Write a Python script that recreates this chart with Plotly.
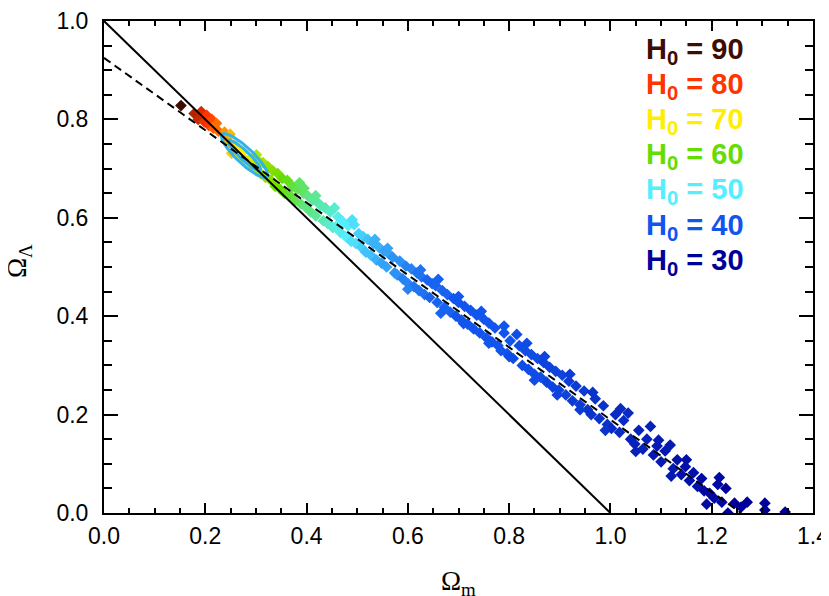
import numpy as np
import plotly.graph_objects as go

# points: Omega_m, Omega_Lambda, H0 (colour)
omega_m = [0.152, 0.178, 0.186, 0.192, 0.198, 0.203, 0.207, 0.213, 0.216, 0.222,
           0.226, 0.238, 0.243, 0.249, 0.247, 0.252, 0.256, 0.262, 0.266, 0.270,
           0.274, 0.279, 0.284, 0.289, 0.294, 0.299, 0.301, 0.305, 0.309, 0.314,
           0.319, 0.324, 0.330, 0.333, 0.338, 0.343, 0.348, 0.352, 0.356, 0.362,
           0.367, 0.372, 0.377, 0.381, 0.386, 0.389, 0.394, 0.398, 0.403, 0.408,
           0.412, 0.418, 0.423, 0.428, 0.433, 0.437, 0.442, 0.447, 0.452, 0.458,
           0.462, 0.467, 0.472, 0.477, 0.482, 0.488, 0.494, 0.497, 0.503, 0.508,
           0.512, 0.517, 0.521, 0.527, 0.532, 0.538, 0.543, 0.548, 0.553, 0.558,
           0.563, 0.570, 0.574, 0.579, 0.584, 0.590, 0.596, 0.601, 0.607, 0.612,
           0.618, 0.622, 0.627, 0.633, 0.638, 0.643, 0.648, 0.655, 0.658, 0.665,
           0.668, 0.672, 0.678, 0.684, 0.690, 0.695, 0.700, 0.706, 0.712, 0.718,
           0.724, 0.730, 0.736, 0.742, 0.750, 0.755, 0.760, 0.766, 0.772, 0.778,
           0.784, 0.790, 0.796, 0.802, 0.808, 0.815, 0.820, 0.826, 0.832, 0.838,
           0.844, 0.850, 0.856, 0.862, 0.868, 0.874, 0.880, 0.886, 0.892, 0.898,
           0.905, 0.912, 0.918, 0.925, 0.932, 0.940, 0.948, 0.955, 0.962, 0.970,
           0.978, 0.986, 0.994, 1.002, 1.010, 1.018, 1.026, 1.035, 1.040, 1.048,
           1.056, 1.064, 1.072, 1.079, 1.085, 1.092, 1.100, 1.108, 1.118, 1.124,
           1.132, 1.140, 1.148, 1.156, 1.164, 1.172, 1.180, 1.190, 1.196, 1.205,
           1.212, 1.220, 1.228, 1.232, 1.245, 1.258, 1.270, 1.305, 1.305, 1.345,
           0.395, 0.418, 0.455, 0.490, 0.535, 0.560, 0.600, 0.625, 0.660, 0.700,
           0.710, 0.745, 0.760, 0.790, 0.800, 0.835, 0.850, 0.870, 0.895, 0.920,
           0.940, 0.965, 0.990, 1.020, 1.050, 1.095, 1.120, 1.150, 1.185, 1.215]
omega_l = [0.828, 0.812, 0.800, 0.816, 0.795, 0.808, 0.788, 0.800, 0.782, 0.792,
           0.776, 0.774, 0.762, 0.770, 0.752, 0.731, 0.748, 0.744, 0.736, 0.724,
           0.734, 0.718, 0.716, 0.706, 0.708, 0.698, 0.728, 0.716, 0.690, 0.712,
           0.682, 0.704, 0.676, 0.696, 0.664, 0.690, 0.658, 0.680, 0.650, 0.676,
           0.646, 0.664, 0.634, 0.658, 0.671, 0.628, 0.650, 0.622, 0.644, 0.612,
           0.636, 0.604, 0.630, 0.625, 0.594, 0.620, 0.588, 0.612, 0.580, 0.582,
           0.602, 0.570, 0.592, 0.562, 0.584, 0.552, 0.586, 0.548, 0.568, 0.540,
           0.562, 0.530, 0.556, 0.524, 0.548, 0.514, 0.540, 0.508, 0.532, 0.500,
           0.526, 0.520, 0.488, 0.484, 0.512, 0.476, 0.502, 0.466, 0.496, 0.460,
           0.488, 0.452, 0.480, 0.444, 0.474, 0.438, 0.466, 0.462, 0.428, 0.406,
           0.452, 0.418, 0.444, 0.408, 0.436, 0.400, 0.428, 0.392, 0.420, 0.384,
           0.412, 0.374, 0.402, 0.366, 0.394, 0.356, 0.386, 0.348, 0.376, 0.340,
           0.330, 0.366, 0.324, 0.350, 0.314, 0.363, 0.340, 0.300, 0.330, 0.292,
           0.322, 0.282, 0.314, 0.276, 0.306, 0.266, 0.296, 0.256, 0.288, 0.250,
           0.280, 0.240, 0.268, 0.228, 0.258, 0.220, 0.248, 0.210, 0.200, 0.232,
           0.192, 0.218, 0.180, 0.172, 0.200, 0.164, 0.188, 0.203, 0.150, 0.140,
           0.168, 0.130, 0.150, 0.176, 0.118, 0.136, 0.104, 0.126, 0.138, 0.090,
           0.108, 0.078, 0.094, 0.066, 0.082, 0.054, 0.070, 0.018, 0.040, 0.030,
           0.058, 0.022, 0.050, 0.000, 0.020, 0.012, 0.022, 0.020, 0.006, 0.002,
           0.660, 0.645, 0.620, 0.596, 0.556, 0.538, 0.455, 0.494, 0.475, 0.440,
           0.385, 0.410, 0.345, 0.380, 0.318, 0.345, 0.270, 0.318, 0.240, 0.282,
           0.210, 0.245, 0.168, 0.212, 0.125, 0.148, 0.075, 0.108, 0.045, 0.072]
h0 = [90, 84, 83, 82, 81, 80, 80, 79, 78, 77,
      77, 75, 74, 73, 73, 72, 72, 71, 70, 70,
      70, 69, 68, 68, 67, 66, 65, 65, 64, 64,
      63, 63, 62, 62, 61, 61, 60, 60, 59, 59,
      58, 58, 57, 57, 56, 56, 56, 55, 55, 55,
      54, 54, 54, 53, 53, 53, 52, 52, 52, 51,
      51, 51, 50, 50, 50, 49, 49, 49, 48, 48,
      48, 47, 47, 47, 46, 46, 46, 45, 45, 45,
      45, 44, 44, 44, 44, 43, 43, 43, 43, 42,
      42, 42, 42, 42, 41, 41, 41, 41, 41, 41,
      41, 41, 41, 41, 40, 40, 40, 40, 40, 40,
      40, 40, 40, 40, 40, 40, 40, 40, 40, 40,
      40, 40, 40, 40, 39, 39, 39, 39, 39, 39,
      39, 39, 39, 39, 38, 38, 38, 38, 38, 38,
      38, 38, 37, 37, 37, 37, 37, 36, 36, 36,
      36, 36, 36, 35, 35, 35, 35, 35, 34, 34,
      34, 34, 34, 34, 33, 33, 33, 33, 33, 33,
      32, 32, 32, 32, 32, 32, 31, 31, 31, 31,
      31, 31, 30, 30, 30, 30, 30, 30, 30, 30,
      56, 54, 52, 49, 46, 45, 43, 42, 41, 40,
      40, 40, 40, 40, 39, 39, 39, 38, 38, 37,
      37, 36, 36, 35, 34, 33, 33, 32, 31, 31]

# flat universe line and the fitted degeneracy line
flat_x = [0.0, 1.0]
flat_y = [1.0, 0.0]
fit_x = [0.0, 1.258]
fit_y = [0.925, 0.0]

# confidence ellipses: centre, semi-axes, angle (deg)
ell_center = (0.2775, 0.7265)
ell_axes = [(0.062, 0.016), (0.044, 0.009)]
ell_angle = -44.3

x_ticks = [0.0, 0.2, 0.4, 0.6, 0.8, 1.0, 1.2, 1.4]
x_labels = ['0.0', '0.2', '0.4', '0.6', '0.8', '1.0', '1.2', '1.4']
y_ticks = [0.0, 0.2, 0.4, 0.6, 0.8, 1.0]
y_labels = ['0.0', '0.2', '0.4', '0.6', '0.8', '1.0']

legend_vals = [90, 80, 70, 60, 50, 40, 30]
legend_cols = ['#3d0c02', '#ff3500', '#ffee00', '#66dd00', '#55eeff', '#1155ee', '#000099']

scale = [[0.0, '#000099'], [1/6, '#1155ee'], [2/6, '#55eeff'], [3/6, '#66dd00'],
         [4/6, '#ffee00'], [5/6, '#ff3500'], [1.0, '#3d0c02']]

fig = go.Figure()

fig.add_trace(go.Scatter(
    x=omega_m, y=omega_l, mode='markers',
    marker=dict(symbol='diamond', size=9, color=h0, colorscale=scale,
                cmin=30, cmax=90, line=dict(width=0)),
    showlegend=False))

# ellipse outlines
t = np.linspace(0, 2*np.pi, 120)
th = np.deg2rad(ell_angle)
for a, b in ell_axes:
    ex = ell_center[0] + a*np.cos(t)*np.cos(th) - b*np.sin(t)*np.sin(th)
    ey = ell_center[1] + a*np.cos(t)*np.sin(th) + b*np.sin(t)*np.cos(th)
    fig.add_trace(go.Scatter(x=ex, y=ey, mode='lines',
                             line=dict(color='#33b4e8', width=3), showlegend=False))

fig.add_trace(go.Scatter(x=fit_x, y=fit_y, mode='lines',
                         line=dict(color='black', width=2, dash='8px,5px'), showlegend=False))
fig.add_trace(go.Scatter(x=flat_x, y=flat_y, mode='lines',
                         line=dict(color='black', width=2), showlegend=False))

tickfont = dict(family='Liberation Sans, Arial', size=23, color='black')
fig.update_xaxes(range=[0, 1.4], tickmode='array', tickvals=x_ticks, ticktext=x_labels,
                 ticks='inside', ticklen=10, tickwidth=2, tickcolor='black',
                 showline=True, linecolor='black', linewidth=2, mirror='ticks',
                 showgrid=False, zeroline=False, tickfont=tickfont,
                 ticklabelstandoff=1, ticklabeloverflow='allow',
                 minor=dict(tickmode='linear', tick0=0, dtick=0.05, ticks='inside',
                            ticklen=5, tickwidth=2, tickcolor='black'))
fig.update_yaxes(range=[0, 1.0], tickmode='array', tickvals=y_ticks, ticktext=y_labels,
                 ticks='inside', ticklen=14, tickwidth=2, tickcolor='black',
                 showline=True, linecolor='black', linewidth=2, mirror='ticks',
                 showgrid=False, zeroline=False, tickfont=tickfont,
                 ticklabelstandoff=9, ticklabeloverflow='allow',
                 minor=dict(tickmode='linear', tick0=0, dtick=0.05, ticks='inside',
                            ticklen=8, tickwidth=2, tickcolor='black'))

# axis titles
titlefont = dict(family='Liberation Serif, Times New Roman', size=27, color='black')
fig.add_annotation(text='Ω<sub>m</sub>', xref='paper', yref='paper', x=0.5, y=0,
                   yanchor='middle', yshift=-70, showarrow=False, font=titlefont)
fig.add_annotation(text='Ω<sub>Λ</sub>', xref='paper', yref='paper', x=0, y=0.5,
                   xanchor='center', xshift=-85, yshift=6, textangle=-90,
                   showarrow=False, font=titlefont)

# H0 colour key (page offset of 8px for the body margin)
for i, (v, c) in enumerate(zip(legend_vals, legend_cols)):
    ypix = 39 + 36*i
    fig.add_annotation(text='H<sub>0</sub> = %d' % v, xref='paper', yref='paper',
                       x=(646-104)/711, y=(513-ypix)/505, xanchor='left', yanchor='middle',
                       showarrow=False,
                       font=dict(family='Liberation Sans, Arial', size=29, color=c, weight='bold'))

fig.update_layout(width=821, height=588, margin=dict(l=96, r=14, t=0, b=83),
                  plot_bgcolor='white', paper_bgcolor='white', showlegend=False)

fig.write_html("out.html")
